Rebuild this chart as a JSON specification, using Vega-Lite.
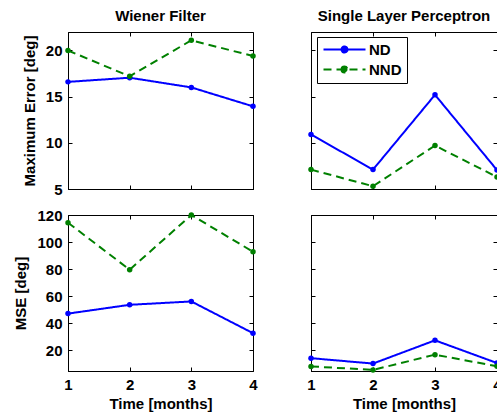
{
  "$schema": "https://vega.github.io/schema/vega-lite/v6.json",
  "padding": {"left": 13, "top": 8, "right": 0, "bottom": 0},
  "background": "white",
  "data": {"values": [
    {"r": "max", "c": "wf", "t": 1, "s": "ND", "v": 16.6},
    {"r": "max", "c": "wf", "t": 2, "s": "ND", "v": 17.05},
    {"r": "max", "c": "wf", "t": 3, "s": "ND", "v": 16.0},
    {"r": "max", "c": "wf", "t": 4, "s": "ND", "v": 13.95},
    {"r": "max", "c": "wf", "t": 1, "s": "NND", "v": 20.0},
    {"r": "max", "c": "wf", "t": 2, "s": "NND", "v": 17.2},
    {"r": "max", "c": "wf", "t": 3, "s": "NND", "v": 21.1},
    {"r": "max", "c": "wf", "t": 4, "s": "NND", "v": 19.4},
    {"r": "max", "c": "slp", "t": 1, "s": "ND", "v": 10.9},
    {"r": "max", "c": "slp", "t": 2, "s": "ND", "v": 7.1},
    {"r": "max", "c": "slp", "t": 3, "s": "ND", "v": 15.2},
    {"r": "max", "c": "slp", "t": 4, "s": "ND", "v": 7.05},
    {"r": "max", "c": "slp", "t": 1, "s": "NND", "v": 7.1},
    {"r": "max", "c": "slp", "t": 2, "s": "NND", "v": 5.3},
    {"r": "max", "c": "slp", "t": 3, "s": "NND", "v": 9.7},
    {"r": "max", "c": "slp", "t": 4, "s": "NND", "v": 6.3},
    {"r": "mse", "c": "wf", "t": 1, "s": "ND", "v": 47},
    {"r": "mse", "c": "wf", "t": 2, "s": "ND", "v": 53.5},
    {"r": "mse", "c": "wf", "t": 3, "s": "ND", "v": 56},
    {"r": "mse", "c": "wf", "t": 4, "s": "ND", "v": 32.5},
    {"r": "mse", "c": "wf", "t": 1, "s": "NND", "v": 114.3},
    {"r": "mse", "c": "wf", "t": 2, "s": "NND", "v": 79.5},
    {"r": "mse", "c": "wf", "t": 3, "s": "NND", "v": 120},
    {"r": "mse", "c": "wf", "t": 4, "s": "NND", "v": 92.8},
    {"r": "mse", "c": "slp", "t": 1, "s": "ND", "v": 14},
    {"r": "mse", "c": "slp", "t": 2, "s": "ND", "v": 10},
    {"r": "mse", "c": "slp", "t": 3, "s": "ND", "v": 27.2},
    {"r": "mse", "c": "slp", "t": 4, "s": "ND", "v": 10.4},
    {"r": "mse", "c": "slp", "t": 1, "s": "NND", "v": 7.9},
    {"r": "mse", "c": "slp", "t": 2, "s": "NND", "v": 5.3},
    {"r": "mse", "c": "slp", "t": 3, "s": "NND", "v": 16.6},
    {"r": "mse", "c": "slp", "t": 4, "s": "NND", "v": 8}
  ]},
  "columns": 2,
  "spacing": {"row": 26, "column": 58},
  "bounds": "flush",
  "resolve": {
    "scale": {"y": "independent", "x": "independent"},
    "legend": {"color": "independent", "strokeDash": "independent"}
  },
  "concat": [
    {
      "title": {"text": "Wiener Filter"},
      "width": 185, "height": 157,
      "transform": [{"filter": "datum.r == 'max' && datum.c == 'wf'"}],
      "encoding": {
        "color": {"field": "s", "type": "nominal", "scale": {"domain": ["ND", "NND"], "range": ["#0000ff", "#008000"]}, "legend": null}
      },
      "layer": [
        {
          "mark": {"type": "line", "strokeWidth": 2},
          "encoding": {
            "x": {"field": "t", "type": "quantitative", "scale": {"domain": [1, 4], "nice": false, "zero": false}, "axis": {"values": [1, 2, 3, 4], "labels": false, "title": null}},
            "y": {"field": "v", "type": "quantitative", "scale": {"domain": [5, 22], "nice": false, "zero": false}, "axis": {"values": [5, 10, 15, 20], "title": "Maximum Error [deg]"}},
            "strokeDash": {"field": "s", "type": "nominal", "scale": {"domain": ["ND", "NND"], "range": [[1, 0], [8, 5]]}, "legend": null}
          }
        },
        {
          "mark": {"type": "point", "filled": true, "size": 30, "opacity": 1},
          "encoding": {
            "x": {"field": "t", "type": "quantitative", "scale": {"domain": [1, 4], "nice": false, "zero": false}, "axis": {"orient": "top", "values": [1, 2, 3, 4], "labels": false, "title": null, "domain": false}},
            "y": {"field": "v", "type": "quantitative", "scale": {"domain": [5, 22], "nice": false, "zero": false}, "axis": {"orient": "right", "values": [5, 10, 15, 20], "labels": false, "title": null, "domain": false}}
          }
        }
      ],
      "resolve": {"axis": {"x": "independent", "y": "independent"}}
    },
    {
      "title": {"text": "Single Layer Perceptron"},
      "width": 186, "height": 157,
      "transform": [{"filter": "datum.r == 'max' && datum.c == 'slp'"}],
      "encoding": {
        "color": {"field": "s", "type": "nominal", "scale": {"domain": ["ND", "NND"], "range": ["#0000ff", "#008000"]},
          "legend": {"orient": "none", "legendX": 6, "legendY": 5, "title": null,
            "symbolType": "M-4.2,0H4.2M-0.6,0A0.6,0.6,0,1,1,0.6,0A0.6,0.6,0,1,1,-0.6,0",
            "symbolSize": 100, "symbolStrokeWidth": 2, "symbolOffset": 15, "labelOffset": 17,
            "labelFont": "Liberation Sans", "labelFontSize": 15, "labelFontWeight": "bold", "labelColor": "black",
            "strokeColor": "black", "fillColor": "white", "padding": 5, "rowPadding": 4,
            "encode": {"symbols": {"update": {"fill": {"signal": "datum.value == 'ND' ? '#0000ff' : '#008000'"}, "fillOpacity": {"value": 1}}}}}}
      },
      "layer": [
        {
          "mark": {"type": "line", "strokeWidth": 2},
          "encoding": {
            "x": {"field": "t", "type": "quantitative", "scale": {"domain": [1, 4], "nice": false, "zero": false}, "axis": {"values": [1, 2, 3, 4], "labels": false, "title": null}},
            "y": {"field": "v", "type": "quantitative", "scale": {"domain": [5, 22], "nice": false, "zero": false}, "axis": {"values": [5, 10, 15, 20], "labels": false, "title": null}},
            "strokeDash": {"field": "s", "type": "nominal", "scale": {"domain": ["ND", "NND"], "range": [[1, 0], [8, 5]]},
              "legend": {"orient": "none", "legendX": 6, "legendY": 5, "title": null,
                "symbolType": "M-4.2,0H4.2M-0.6,0A0.6,0.6,0,1,1,0.6,0A0.6,0.6,0,1,1,-0.6,0",
                "symbolSize": 100, "symbolStrokeWidth": 2, "symbolOffset": 15, "labelOffset": 17,
                "labelFont": "Liberation Sans", "labelFontSize": 15, "labelFontWeight": "bold", "labelColor": "black",
                "strokeColor": "black", "fillColor": "white", "padding": 5, "rowPadding": 4}}
          }
        },
        {
          "mark": {"type": "point", "filled": true, "size": 30, "opacity": 1},
          "encoding": {
            "x": {"field": "t", "type": "quantitative", "scale": {"domain": [1, 4], "nice": false, "zero": false}, "axis": {"orient": "top", "values": [1, 2, 3, 4], "labels": false, "title": null, "domain": false}},
            "y": {"field": "v", "type": "quantitative", "scale": {"domain": [5, 22], "nice": false, "zero": false}, "axis": {"orient": "right", "values": [5, 10, 15, 20], "labels": false, "title": null, "domain": false}}
          }
        }
      ],
      "resolve": {"axis": {"x": "independent", "y": "independent"}}
    },
    {
      "width": 185, "height": 156,
      "transform": [{"filter": "datum.r == 'mse' && datum.c == 'wf'"}],
      "encoding": {
        "color": {"field": "s", "type": "nominal", "scale": {"domain": ["ND", "NND"], "range": ["#0000ff", "#008000"]}, "legend": null}
      },
      "layer": [
        {
          "mark": {"type": "line", "strokeWidth": 2},
          "encoding": {
            "x": {"field": "t", "type": "quantitative", "scale": {"domain": [1, 4], "nice": false, "zero": false}, "axis": {"values": [1, 2, 3, 4], "title": "Time [months]", "format": "d"}},
            "y": {"field": "v", "type": "quantitative", "scale": {"domain": [4.5, 120], "nice": false, "zero": false}, "axis": {"values": [20, 40, 60, 80, 100, 120], "title": "MSE [deg]"}},
            "strokeDash": {"field": "s", "type": "nominal", "scale": {"domain": ["ND", "NND"], "range": [[1, 0], [8, 5]]}, "legend": null}
          }
        },
        {
          "mark": {"type": "point", "filled": true, "size": 30, "opacity": 1},
          "encoding": {
            "x": {"field": "t", "type": "quantitative", "scale": {"domain": [1, 4], "nice": false, "zero": false}, "axis": {"orient": "top", "values": [1, 2, 3, 4], "labels": false, "title": null, "domain": false}},
            "y": {"field": "v", "type": "quantitative", "scale": {"domain": [4.5, 120], "nice": false, "zero": false}, "axis": {"orient": "right", "values": [20, 40, 60, 80, 100, 120], "labels": false, "title": null, "domain": false}}
          }
        }
      ],
      "resolve": {"axis": {"x": "independent", "y": "independent"}}
    },
    {
      "width": 186, "height": 156,
      "transform": [{"filter": "datum.r == 'mse' && datum.c == 'slp'"}],
      "encoding": {
        "color": {"field": "s", "type": "nominal", "scale": {"domain": ["ND", "NND"], "range": ["#0000ff", "#008000"]}, "legend": null}
      },
      "layer": [
        {
          "mark": {"type": "line", "strokeWidth": 2},
          "encoding": {
            "x": {"field": "t", "type": "quantitative", "scale": {"domain": [1, 4], "nice": false, "zero": false}, "axis": {"values": [1, 2, 3, 4], "title": "Time [months]", "format": "d"}},
            "y": {"field": "v", "type": "quantitative", "scale": {"domain": [4.5, 120], "nice": false, "zero": false}, "axis": {"values": [20, 40, 60, 80, 100, 120], "labels": false, "title": null}},
            "strokeDash": {"field": "s", "type": "nominal", "scale": {"domain": ["ND", "NND"], "range": [[1, 0], [8, 5]]}, "legend": null}
          }
        },
        {
          "mark": {"type": "point", "filled": true, "size": 30, "opacity": 1},
          "encoding": {
            "x": {"field": "t", "type": "quantitative", "scale": {"domain": [1, 4], "nice": false, "zero": false}, "axis": {"orient": "top", "values": [1, 2, 3, 4], "labels": false, "title": null, "domain": false}},
            "y": {"field": "v", "type": "quantitative", "scale": {"domain": [4.5, 120], "nice": false, "zero": false}, "axis": {"orient": "right", "values": [20, 40, 60, 80, 100, 120], "labels": false, "title": null, "domain": false}}
          }
        }
      ],
      "resolve": {"axis": {"x": "independent", "y": "independent"}}
    }
  ],
  "config": {
    "view": {"stroke": "black", "strokeWidth": 1},
    "font": "Liberation Sans",
    "axis": {
      "grid": false, "domainColor": "black", "tickColor": "black", "tickSize": -4, "labelPadding": 10,
      "labelFont": "Liberation Sans", "labelFontSize": 15, "labelFontWeight": "bold", "labelColor": "black",
      "titleFont": "Liberation Sans", "titleFontSize": 15, "titleFontWeight": "bold", "titleColor": "black", "titlePadding": 8,
      "labelFlush": false, "labelOverlap": false
    },
    "axisX": {"titlePadding": 4},
    "title": {"font": "Liberation Sans", "fontSize": 15, "fontWeight": "bold", "color": "black", "anchor": "middle", "offset": 8}
  }
}
